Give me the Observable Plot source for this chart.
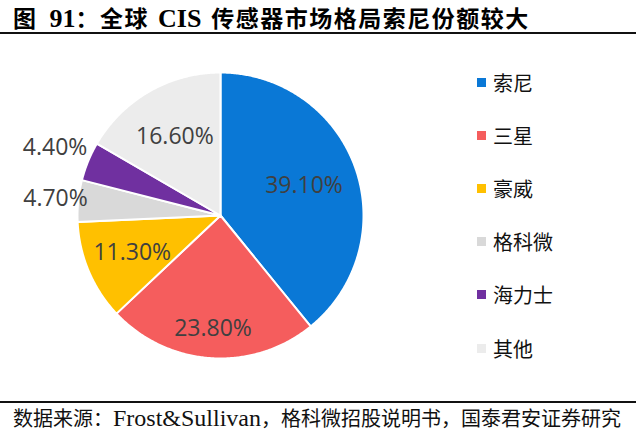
<!DOCTYPE html>
<html><head><meta charset="utf-8">
<script src="https://cdn.jsdelivr.net/npm/d3@7"></script>
<script src="https://cdn.jsdelivr.net/npm/@observablehq/plot@0.6"></script>
<style>
body{margin:0;background:#fff;}
#wrap{position:relative;width:640px;height:435px;overflow:hidden;background:#fff;}
#title{position:absolute;left:13px;top:0px;font-weight:bold;font-size:23px;letter-spacing:1.5px;font-family:"Noto Sans CJK SC";color:#000;white-space:nowrap;line-height:34px;}
#title .lat{font-family:"Liberation Serif";font-size:26px;letter-spacing:0;}
#tline{position:absolute;left:0;top:32px;width:636px;height:2px;background:#111;}
#fline{position:absolute;left:0;top:401px;width:636px;height:2px;background:#111;}
#foot{position:absolute;left:13px;top:403px;font-size:20px;font-family:"Noto Sans CJK SC";color:#111;white-space:nowrap;line-height:30px;}
#foot .lat{font-family:"Liberation Serif";font-size:24px;}
#chart{position:absolute;left:0;top:40px;}
.leg{position:absolute;left:477px;height:20px;display:flex;align-items:center;font-size:20px;font-family:"Noto Sans CJK SC";color:#111;white-space:nowrap;}
.leg .sw{width:9px;height:9px;margin-right:7px;}
</style></head>
<body><div id="wrap">
<div id="title"><span>图</span><span class="lat" style="margin-left:12px">91</span><span>：全球</span><span class="lat" style="margin-left:9px">CIS</span><span style="margin-left:10px">传感器市场格局索尼份额较大</span></div>
<div id="tline"></div>
<div id="chart"></div>
<div id="fline"></div>
<div id="foot">数据来源：<span class="lat">Frost&amp;Sullivan</span>，格科微招股说明书，国泰君安证券研究</div>
</div>
<script>
// ---- data ----
const companies = ["索尼", "三星", "豪威", "格科微", "海力士", "其他"];
const shares = [39.1, 23.8, 11.3, 4.7, 4.4, 16.6];
const colors = ["#0a78d6", "#f55d5d", "#ffc000", "#d9d9d9", "#7030a0", "#ececec"];

// ---- layout (not data) ----
const cx = 220, cy = 175, R = 143, W = 460, H = 355;
const labelRadius = {"索尼": 0.62, "三星": 0.79, "豪威": 0.67, "格科微": 1.16, "海力士": 1.25, "其他": 0.64};

const rows = companies.map((name, i) => ({name, share: shares[i]}));
const arcs = d3.pie().sort(null).value(d => d.share).startAngle(0).endAngle(2 * Math.PI)(rows);

const pts = [];
for (const a of arcs) {
  const name = a.data.name;
  pts.push({name, x: 0, y: 0});
  const n = Math.max(2, Math.ceil((a.endAngle - a.startAngle) / (Math.PI / 360)));
  for (let k = 0; k <= n; k++) {
    const t = a.startAngle + (a.endAngle - a.startAngle) * k / n;
    pts.push({name, x: Math.sin(t), y: Math.cos(t)});
  }
  pts.push({name, x: 0, y: 0});
}
const labs = arcs.map(a => {
  const m = (a.startAngle + a.endAngle) / 2, r = labelRadius[a.data.name];
  return {name: a.data.name, x: r * Math.sin(m), y: r * Math.cos(m), text: d3.format(".2f")(a.data.share) + "%"};
});

const chart = Plot.plot({
  width: W, height: H, margin: 0,
  x: {domain: [-cx / R, (W - cx) / R], axis: null},
  y: {domain: [-(H - cy) / R, cy / R], axis: null},
  color: {domain: companies, range: colors},
  style: {background: "transparent", overflow: "visible"},
  marks: [
    Plot.line(pts, {x: "x", y: "y", z: "name", fill: "name", stroke: "white", strokeWidth: 2, strokeLinejoin: "round", curve: "linear"}),
    Plot.text(labs, {x: "x", y: "y", text: "text", fontSize: 23, fill: "#404040", fontFamily: "Open Sans"})
  ]
});
document.getElementById("chart").appendChild(chart);

// legend
const wrap = document.getElementById("wrap");
const legY = [82, 135, 189, 243, 297, 348];
companies.forEach((name, i) => {
  const d = document.createElement("div");
  d.className = "leg";
  d.style.top = (legY[0] + i * (legY[5] - legY[0]) / 5 - 10) + "px";
  d.innerHTML = `<span class="sw" style="background:${colors[i]}"></span><span>${name}</span>`;
  wrap.appendChild(d);
});
</script>
</body></html>
